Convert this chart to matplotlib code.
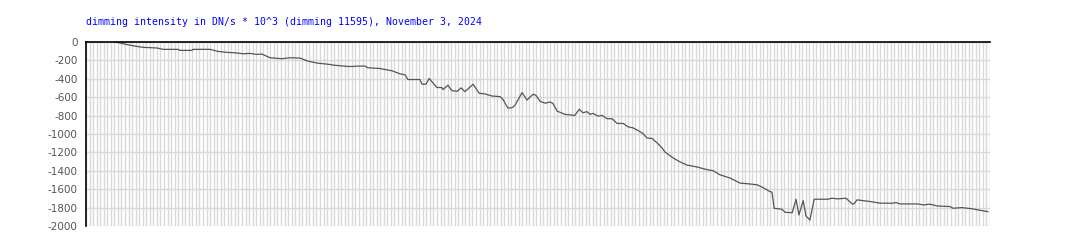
import numpy as np
import matplotlib
matplotlib.use("Agg")
import matplotlib.pyplot as plt

TITLE = "dimming intensity in DN/s * 10^3 (dimming 11595), November 3, 2024"

# time step index (one grid column per step) and dimming intensity
steps = [8.2, 9.6, 11.8, 13.8, 16.1, 20.0, 21.7, 26.0, 26.5, 29.9, 30.2, 35.0,
         37.2, 39.8, 42.0, 44.3, 46.3, 48.2, 49.6, 51.9, 55.3, 57.5, 60.4, 62.6,
         65.4, 68.8, 69.7, 73.9, 75.3, 76.4, 78.7, 79.5, 82.9, 84.9, 86.3, 88.6,
         90.0, 90.8, 94.2, 94.8, 95.9, 96.8, 99.0, 100.4, 100.7, 102.1, 103.2,
         104.7, 105.8, 106.9, 109.2, 110.9, 112.6, 114.5, 116.8, 117.6, 119.0,
         120.2, 121.0, 123.0, 124.4, 126.1, 126.9, 128.1, 129.5, 130.9, 131.7,
         132.9, 135.1, 137.9, 139.1, 140.2, 141.3, 142.2, 143.0, 144.4, 145.6,
         147.0, 148.4, 149.8, 151.5, 152.9, 154.3, 155.7, 157.1, 158.2, 159.7,
         161.1, 162.5, 163.3, 165.6, 167.6, 169.5, 172.4, 175.2, 176.9, 178.8,
         181.7, 183.6, 184.5, 186.7, 189.3, 190.7, 192.9, 193.5, 194.1, 196.3,
         197.2, 199.2, 200.3, 201.1, 202.3, 203.1, 204.2, 205.4, 209.3, 210.4,
         212.1, 214.4, 216.1, 216.6, 217.5, 221.2, 224.0, 227.6, 228.5, 229.6,
         234.7, 236.1, 238.1, 240.1, 243.7, 244.6, 247.1, 250.2, 251.6, 254.4]
intensity = [0, -11, -30, -44, -58, -65, -80, -80, -91, -91, -80, -80,
             -102, -113, -117, -128, -124, -135, -131, -171, -182, -171, -175, -208,
             -230, -244, -251, -266, -266, -262, -262, -280, -288, -302, -313, -346,
             -357, -408, -408, -459, -459, -397, -495, -495, -517, -470, -528,
             -536, -499, -539, -459, -557, -565, -587, -594, -623, -718,
             -714, -689, -550, -631, -568, -579, -645, -665, -652, -667,
             -751, -787, -798, -732, -769, -757, -787, -776, -805, -798,
             -834, -834, -885, -885, -922, -933, -962, -995, -1042, -1049,
             -1097, -1151, -1195, -1260, -1304, -1337, -1359, -1388, -1399, -1443,
             -1479, -1516, -1534, -1541, -1552, -1577, -1625, -1632, -1807, -1818,
             -1851, -1855, -1709, -1880, -1724, -1891, -1935, -1709, -1709, -1698,
             -1705, -1698, -1760, -1760, -1716, -1734, -1752, -1752, -1745, -1760,
             -1760, -1771, -1763, -1782, -1789, -1807, -1800, -1814, -1825, -1844]

y_ticks = list(range(0, -2001, -200))
n_steps = 255


def main():
    fig = plt.figure(figsize=(10.76, 2.5), dpi=100)
    ax = fig.add_axes([86 / 1076, 1 - 226 / 250, (990 - 86) / 1076, (226 - 42) / 250])

    ax.set_xlim(0, n_steps)
    ax.set_ylim(-2000, 0)
    ax.set_xticks(np.arange(0, n_steps + 1))
    ax.set_yticks(y_ticks)
    ax.set_xticklabels([])
    ax.set_yticklabels([str(v) for v in y_ticks], fontsize=7.5, color='#555555',
                       family='DejaVu Sans')
    ax.tick_params(length=0, pad=6)
    ax.grid(True, color='#d9d9d9', linewidth=1.0)
    ax.set_axisbelow(True)

    for side in ('right', 'bottom'):
        ax.spines[side].set_visible(False)
    for side in ('left', 'top'):
        ax.spines[side].set_color('black')
        ax.spines[side].set_linewidth(1.2)
        ax.spines[side].set_zorder(5)

    ax.plot(steps, intensity, color='#555555', linewidth=0.9, zorder=3)

    fig.text(86 / 1076, 1 - 22 / 250, TITLE, color='#0000ff', fontsize=7.1,
             family='DejaVu Sans Mono', va='center', ha='left')

    fig.savefig('out.png', dpi=100)


if __name__ == "__main__":
    main()
